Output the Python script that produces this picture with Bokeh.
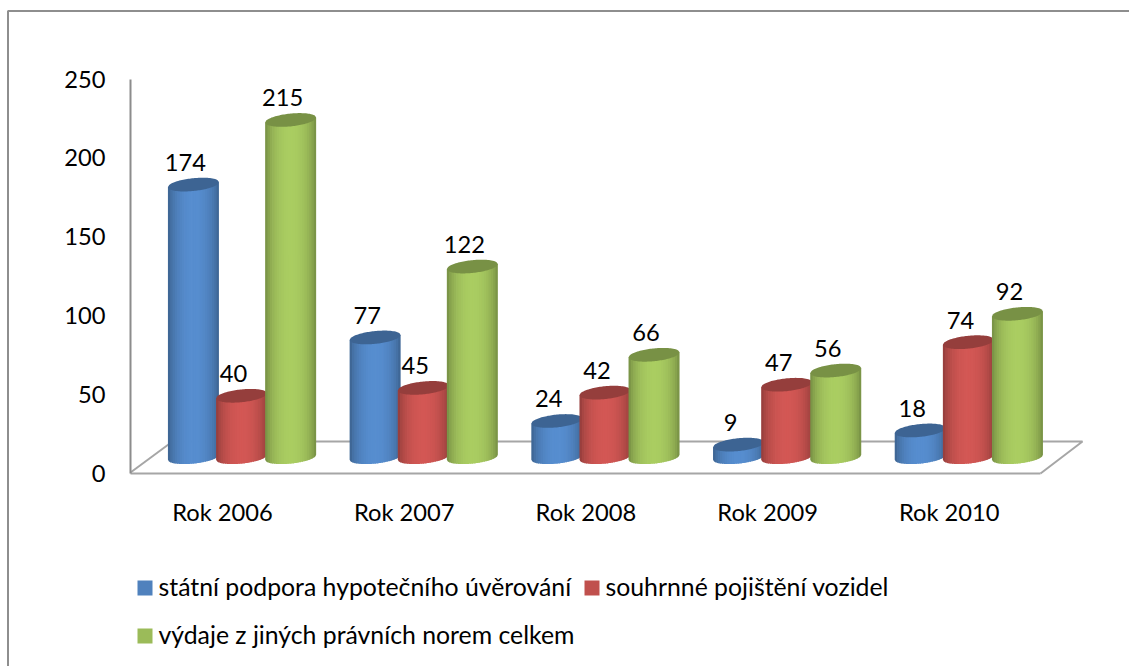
import numpy as np
from bokeh.plotting import figure
from bokeh.models import FixedTicker, Range1d
from bokeh.core.properties import value
from bokeh.embed import file_html
from bokeh.resources import INLINE

years = ["Rok 2006", "Rok 2007", "Rok 2008", "Rok 2009", "Rok 2010"]
statni = [174, 77, 24, 9, 18]
pojisteni = [40, 45, 42, 47, 74]
vydaje = [215, 122, 66, 56, 92]
series_names = ["státní podpora hypotečního úvěrování", "souhrnné pojištění vozidel",
                "výdaje z jiných právních norem celkem"]
y_ticks = [0, 50, 100, 150, 200, 250]
FONT = "Lato"
FS = "23.7px"
FS_LEG = "24.8px"

W, H = 1129, 666
PX_X, X0 = 181.7, 222.0     # page px per category, page x of category 0
PX_Y, Y0 = 1.576, 472.5     # page px per unit, page y of value 0

def dx(px):
    return (px - X0) / PX_X

def dy(py):
    return (Y0 - py) / PX_Y

p = figure(width=W, height=H, output_backend="svg", toolbar_location=None,
           x_range=Range1d(dx(0), dx(W)), y_range=Range1d(dy(H), dy(0)),
           min_border=0, outline_line_color=None, background_fill_color="white")
p.grid.visible = False

# chart frame (left and top edges)
FRAME = "#8E8E8E"
p.line([dx(7.5), dx(7.5), dx(W)], [dy(H), dy(10.5), dy(10.5)], line_color=FRAME, line_width=2)

# floor of the 3D box
FLOOR = "#A6A6A6"
p.multi_line([[dx(130), dx(172)], [dx(172), dx(1082), dx(1040)]],
             [[dy(472), dy(441)], [dy(441), dy(441), dy(473)]],
             line_color=FLOOR, line_width=2, level="underlay")

# axes
yax = p.yaxis[0]
yax.fixed_location = dx(130)
yax.bounds = (0, 250)
yax.ticker = FixedTicker(ticks=y_ticks)
yax.axis_line_color = "#8C8C8C"
yax.axis_line_width = 2
yax.major_tick_line_color = None
yax.minor_tick_line_color = None
yax.major_label_standoff = 19
yax.major_label_text_font = FONT
yax.major_label_text_font_size = FS
yax.major_label_text_color = "black"

xax = p.xaxis[0]
xax.fixed_location = 0
xax.bounds = (dx(130), dx(1040))
xax.ticker = FixedTicker(ticks=list(range(len(years))))
xax.major_label_overrides = {i: y for i, y in enumerate(years)}
xax.axis_line_color = FLOOR
xax.axis_line_width = 2
xax.major_tick_line_color = None
xax.minor_tick_line_color = None
xax.major_label_standoff = 19
xax.major_label_text_font = FONT
xax.major_label_text_font_size = FS
xax.major_label_text_color = "black"

# cylinders
BASE = 9.0          # value units the cylinder tops are raised by the 3D depth
FOOT = 10.0         # centre of the cylinder feet
HALF_W = 25.5 / PX_X
B = 6.4 / PX_Y      # ellipse half height
TILT = 2.5 / PX_Y   # rise of the ellipse from centre to its end
STRIPS = 22
OFFSETS = [-0.16, 0.105, 0.375]
COLORS = [(0x4F, 0x81, 0xBD), (0xC0, 0x50, 0x4D), (0x9B, 0xBB, 0x59)]

def hexc(c, f):
    return "#%02x%02x%02x" % tuple(int(min(255, v * f)) for v in c)

def shade(t):
    return 0.72 + 0.38 * np.sqrt(max(0.0, 1 - t * t)) ** 1.3

def lower(t, yc):
    return yc + TILT * t - B * np.sqrt(np.clip(1 - t * t, 0, 1))

def upper(t, yc):
    return yc + TILT * t + B * np.sqrt(np.clip(1 - t * t, 0, 1))

xs, ys, fills = [], [], []
lab_x, lab_y, lab_t = [], [], []
edges = np.linspace(-1, 1, STRIPS + 1)
for i in range(len(years)):
    for s, vals in enumerate([statni, pojisteni, vydaje]):
        xc = i + OFFSETS[s]
        v = vals[i]
        top = v + BASE
        for k in range(STRIPS):
            t0, t1 = edges[k], edges[k + 1]
            t1x = min(1.0, t1 + 0.03)
            ts = np.linspace(t0, t1x, 4)
            xs.append(list(xc + HALF_W * ts) + list(xc + HALF_W * ts[::-1]))
            ys.append(list(top + TILT * ts) + list(lower(ts[::-1], FOOT)))
            fills.append(hexc(COLORS[s], shade((t0 + t1) / 2)))
        ts = np.linspace(-1, 1, 41)
        xs.append(list(xc + HALF_W * ts) + list(xc + HALF_W * ts[::-1]))
        ys.append(list(upper(ts, top)) + list(lower(ts[::-1], top)))
        fills.append(hexc(COLORS[s], 0.78))
        lab_x.append(xc)
        lab_y.append(top)
        lab_t.append(str(v))

p.patches(xs, ys, fill_color=fills, line_color=None)

p.text(lab_x, lab_y, text=lab_t, x_offset=-8, y_offset=-22, text_align="center",
       text_baseline="middle", text_font=value(FONT), text_font_size=value(FS), text_color="black")

# legend
leg_x = [137, 584, 137]
leg_y = [587.5, 587.5, 635.5]
for n, c, lx, ly in zip(series_names, COLORS, leg_x, leg_y):
    p.quad(left=dx(lx), right=dx(lx + 15), top=dy(ly - 7.5), bottom=dy(ly + 7.5),
           fill_color=hexc(c, 1.0), line_color=None)
    p.text([dx(lx + 21)], [dy(ly - 2)], text=[n], text_align="left", text_baseline="middle",
           text_font=value(FONT), text_font_size=value(FS_LEG), text_color="black")

open("out.html", "w").write(file_html(p, INLINE))
